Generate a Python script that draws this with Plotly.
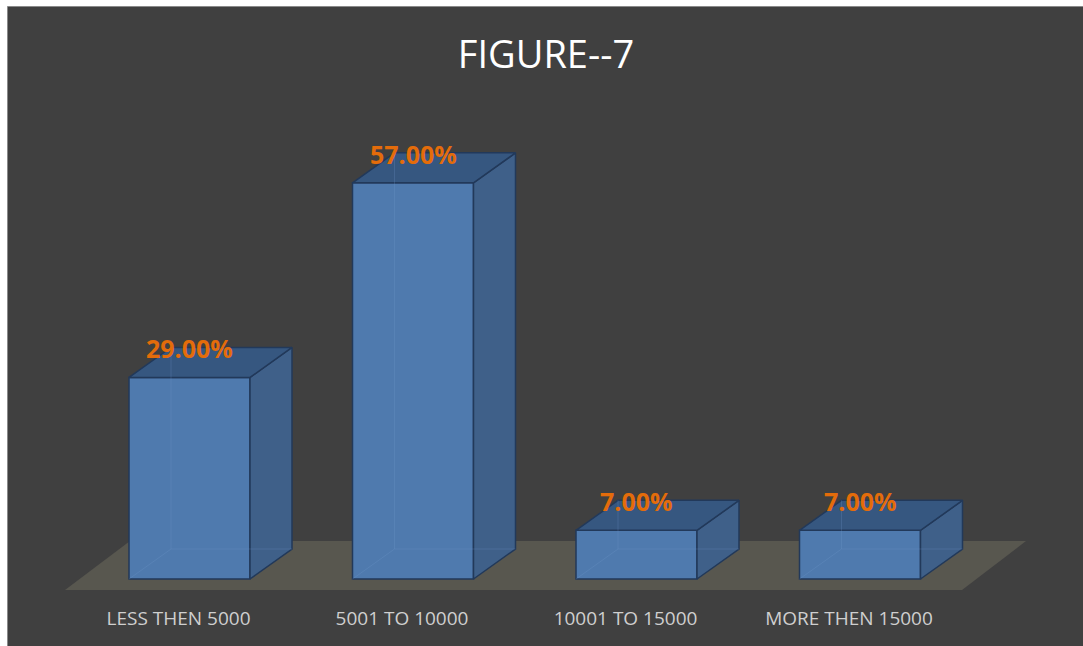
import plotly.graph_objects as go

# ---------------- data ----------------
categories = ["LESS THEN 5000", "5001 TO 10000", "10001 TO 15000", "MORE THEN 15000"]
values = [29.0, 57.0, 7.0, 7.0]
title_text = "FIGURE--7"

# ---------------- layout geometry (pixels) ----------------
W, H = 1083, 646
ML, MR, MT, MB = 10, 10, 20, 50
X0_PX = 189.5      # pixel of category 0 centre (front face)
SLOT_PX = 223.5    # pixels per category
BASE_PX = 579.0    # pixel of value 0 (front bottom edge)
K = 6.95           # pixels per percent
BAR_W = 121 / SLOT_PX
DX = 42 / SLOT_PX  # depth offset in x units
DY = 30 / K        # depth offset in y units


def px_to_x(px):
    return (px - X0_PX) / SLOT_PX


def py_to_y(py):
    return (BASE_PX - py) / K


PW = W - ML - MR
PH = H - MT - MB


def paper_x(px):
    return (px - ML) / PW


def paper_y(py):
    return (H - MB - py) / PH


FRONT = "#4f7aae"
TOP = "#365780"
SIDE = "#3f6089"
EDGE = "#22395a"
BG = "#404040"
FLOOR = "#58574f"

idx = list(range(len(categories)))

fig = go.Figure()

# front faces
fig.add_trace(go.Bar(
    x=idx, y=values, width=BAR_W,
    marker=dict(color=FRONT, line=dict(color=EDGE, width=1.5)),
    hoverinfo="skip", showlegend=False,
))

# side, top faces and faint hidden edges
for i, v in zip(idx, values):
    xl, xr = i - BAR_W / 2, i + BAR_W / 2
    fig.add_trace(go.Scatter(
        x=[xr, xr, xr + DX, xr + DX, xr], y=[0, v, v + DY, DY, 0],
        fill="toself", fillcolor=SIDE, mode="lines",
        line=dict(color=EDGE, width=1.5), hoverinfo="skip", showlegend=False,
    ))
    fig.add_trace(go.Scatter(
        x=[xl, xr, xr + DX, xl + DX, xl], y=[v, v, v + DY, v + DY, v],
        fill="toself", fillcolor=TOP, mode="lines",
        line=dict(color=EDGE, width=1.5), hoverinfo="skip", showlegend=False,
    ))
    fig.add_trace(go.Scatter(
        x=[xl, xl + DX, xr + DX, None, xl + DX, xl + DX],
        y=[0, DY, DY, None, DY, v + DY],
        mode="lines", line=dict(color="rgba(120,160,210,0.22)", width=1),
        hoverinfo="skip", showlegend=False,
    ))

# data labels
for i, v in zip(idx, values):
    fig.add_annotation(
        x=i, y=v, yshift=29, text=f"{v:.2f}%", showarrow=False,
        xanchor="center", yanchor="middle",
        font=dict(family="Open Sans", size=25, color="#e46c0a", weight="bold"),
    )

shapes = [
    # chart area background with thin border
    dict(type="rect", xref="paper", yref="paper",
         x0=paper_x(7.5), x1=paper_x(W + 5), y0=paper_y(H + 5), y1=paper_y(6.5),
         fillcolor=BG, line=dict(color="#8a8a8a", width=1), layer="below"),
    # floor
    dict(type="path", xref="x", yref="y", layer="below",
         path=(f"M {px_to_x(65)},{py_to_y(590)} L {px_to_x(962)},{py_to_y(590)} "
               f"L {px_to_x(1026)},{py_to_y(541)} L {px_to_x(130)},{py_to_y(541)} Z"),
         fillcolor=FLOOR, line=dict(width=0)),
]

fig.update_layout(
    width=W, height=H,
    margin=dict(l=ML, r=MR, t=MT, b=MB),
    paper_bgcolor="white", plot_bgcolor="rgba(0,0,0,0)",
    shapes=shapes,
    showlegend=False,
    title=dict(text=title_text, x=546 / W, xref="container", xanchor="center",
               y=1 - 55 / H, yref="container", yanchor="middle",
               font=dict(family="Open Sans", size=38, color="white")),
    xaxis=dict(range=[px_to_x(ML), px_to_x(W - MR)], showgrid=False, zeroline=False,
               showline=False, ticks="", tickvals=idx, ticktext=categories,
               tickfont=dict(family="Open Sans", size=19, color="#cfcfcf"),
               ticklabelshift=-11, ticklabelstandoff=9, fixedrange=True),
    yaxis=dict(range=[py_to_y(H - MB), py_to_y(MT)], showgrid=False, zeroline=False,
               showline=False, showticklabels=False, ticks="", fixedrange=True),
)

fig.write_html("out.html")
